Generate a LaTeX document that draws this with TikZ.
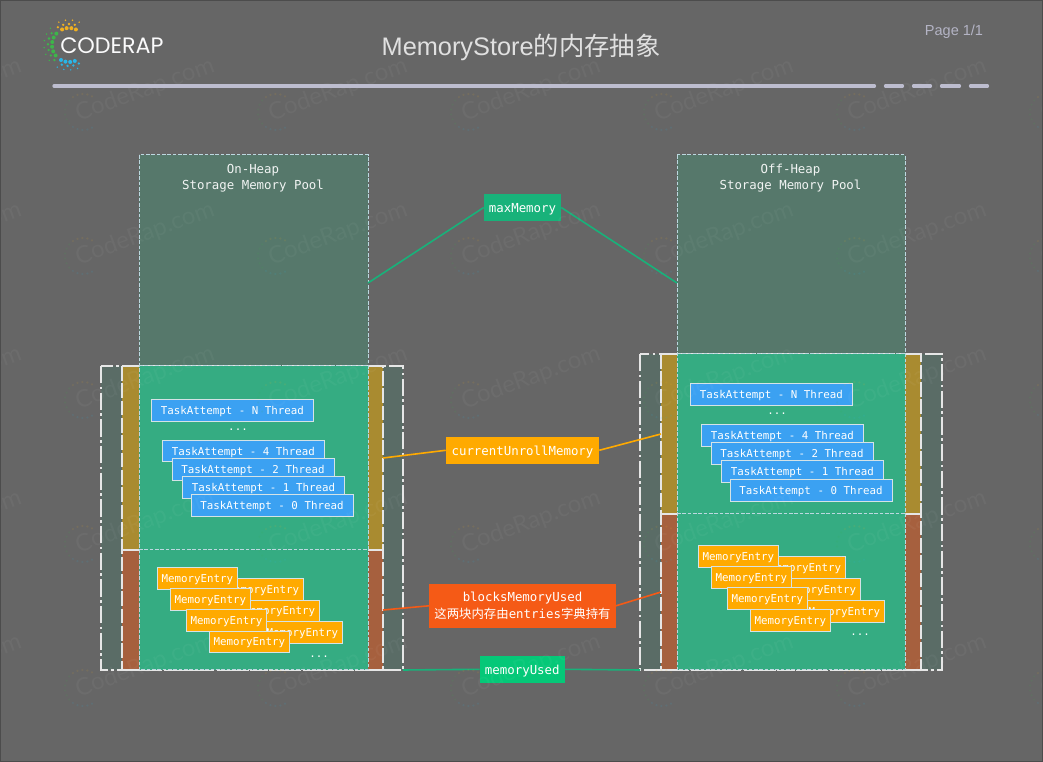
\documentclass[tikz,border=0pt]{standalone}
\usepackage{fontspec}
\setmainfont{Liberation Sans}
\setmonofont{DejaVu Sans Mono}
\newfontfamily\cjk{Noto Sans CJK SC}
\newfontfamily\logofont{Poppins}
\newfontfamily\markfont{Lato}
\definecolor{bgc}{HTML}{666666}
\definecolor{poolc}{HTML}{56786B}
\definecolor{usedc}{HTML}{35AC82}
\definecolor{goldc}{HTML}{A98B30}
\definecolor{brownc}{HTML}{A6603E}
\definecolor{sidec}{HTML}{5A6C66}
\definecolor{bluec}{HTML}{3BA1F2}
\definecolor{orangec}{HTML}{FFAA00}
\definecolor{redc}{HTML}{F55A16}
\definecolor{greenc}{HTML}{05C878}
\definecolor{maxc}{HTML}{18B27A}
\definecolor{rulec}{HTML}{BDBDCF}
\definecolor{edgec}{HTML}{D5E3E6}
\definecolor{pooldash}{HTML}{BCD8E0}
\definecolor{linec}{HTML}{E6E6E6}
\definecolor{logoy}{HTML}{F0B020}
\definecolor{logog}{HTML}{3DB54A}
\definecolor{logob}{HTML}{29B6E8}
\tikzset{
  x=0.75pt,y=-0.75pt,
  taskbox/.style={draw=edgec,line width=0.75pt,fill=bluec,text=white,inner sep=0pt,text depth=0pt,minimum width=121.5pt,minimum height=16.2pt,font=\ttfamily\fontsize{8.1}{10}\selectfont},
  entrybox/.style={draw=edgec,line width=0.75pt,fill=orangec,text=white,inner sep=0pt,text depth=0pt,minimum width=60pt,minimum height=16.2pt,font=\ttfamily\fontsize{8.1}{10}\selectfont},
  tag/.style={inner sep=0pt,text=white,font=\ttfamily\fontsize{9.3}{12.3}\selectfont},
  pooltext/.style={inner sep=0pt,text=white!92!poolc,align=center,font=\ttfamily\fontsize{9.3}{12}\selectfont},
  dotstext/.style={inner sep=0pt,text=white,font=\ttfamily\fontsize{8.1}{10}\selectfont},
  pooledge/.style={draw=pooldash,line width=0.75pt,dash pattern=on 2.7pt off 1.3pt},
  outeredge/.style={draw=linec,line width=1.4pt,dash pattern=on 13pt off 2.5pt on 2pt off 2.5pt},
  bandedge/.style={draw=linec,line width=1.4pt,dash pattern=on 11pt off 2pt},
  wire/.style={line width=1.2pt},
  headrule/.style={draw=rulec,line width=2.5pt,line cap=round},
  markdot/.style={opacity=0.1},
}
\begin{document}
\begin{tikzpicture}
\useasboundingbox (0,0) rectangle (1043,762);
\fill[bgc] (0,0) rectangle (1043,762);

% left column
\fill[poolc] (139,155) rectangle (368,366);
\fill[sidec] (101,366) rectangle (403,670);
\fill[goldc] (122,366) rectangle (139,550) (368,366) rectangle (383,550);
\fill[brownc] (122,550) rectangle (139,670) (368,550) rectangle (383,670);
\draw[bandedge] (122,366) rectangle (383,670);
\draw[linec,line width=1.4pt] (122,550) -- (139,550) (368,550) -- (383,550);
\draw[outeredge] (101,366) rectangle (403,670);
\fill[usedc] (139,366) rectangle (368,670);
\draw[pooledge] (139,155) rectangle (368,670);
\draw[pooledge] (139,366) -- (368,366);
\draw[pooledge] (139,550) -- (368,550);

% right column
\fill[poolc] (677,155) rectangle (905,354);
\fill[sidec] (640,354) rectangle (942,670);
\fill[goldc] (661,354) rectangle (677,514) (905,354) rectangle (921,514);
\fill[brownc] (661,514) rectangle (677,670) (905,514) rectangle (921,670);
\draw[bandedge] (661,354) rectangle (921,670);
\draw[linec,line width=1.4pt] (661,514) -- (677,514) (905,514) -- (921,514);
\draw[outeredge] (640,354) rectangle (942,670);
\fill[usedc] (677,354) rectangle (905,670);
\draw[pooledge] (677,155) rectangle (905,670);
\draw[pooledge] (677,354) -- (905,354);
\draw[pooledge] (677,514) -- (905,514);

\node[pooltext] (poolL) at (253,178) {On-Heap\\Storage Memory Pool};
\node[pooltext] (poolR) at (790.5,178) {Off-Heap\\Storage Memory Pool};

% anchors for connectors
\coordinate (maxL) at (368,283);
\coordinate (maxR) at (677,283);
\coordinate (unrollL) at (383,458);
\coordinate (unrollR) at (661,434);
\coordinate (blocksL) at (383,610);
\coordinate (blocksR) at (661,592);
\coordinate (usedL) at (403,670);
\coordinate (usedR) at (640,670);

% tags
\node[tag,text depth=0pt,fill=maxc,minimum width=57.75pt,minimum height=20.25pt] (maxTag) at (522.5,207.5) {maxMemory};
\node[tag,text depth=0pt,fill=orangec,minimum width=114.75pt,minimum height=20pt] (unrollTag) at (522.5,450.3) {currentUnrollMemory};
\node[tag,align=center,fill=redc,minimum width=139.8pt,minimum height=32.8pt] (blocksTag) at (522.5,605.8) {blocksMemoryUsed\\{\cjk 这两块内存由}entries{\cjk 字典持有}};
\node[tag,text depth=0pt,fill=greenc,minimum width=63.5pt,minimum height=20pt] (usedTag) at (522.3,669.3) {memoryUsed};

\draw[wire,maxc] (maxL) -- (maxTag.west);
\draw[wire,maxc] (maxTag.east) -- (maxR);
\draw[wire,orangec] (unrollL) -- (unrollTag.west);
\draw[wire,orangec] (unrollTag.east) -- (unrollR);
\draw[wire,redc] (blocksL) -- (blocksTag.west);
\draw[wire,redc] (blocksTag.east) -- (blocksR);
\draw[wire,maxc] (usedL) -- (usedTag.west);
\draw[wire,maxc] (usedTag.east) -- (usedR);

% left tasks
\node[taskbox] (ltN) at (232.3,410.5) {TaskAttempt - N Thread};
\node[dotstext] (ltDots) at (238,430) {...};
\node[taskbox] (lt4) at (243.3,451) {TaskAttempt - 4 Thread};
\node[taskbox] (lt2) at (253,469.3) {TaskAttempt - 2 Thread};
\node[taskbox] (lt1) at (263.5,487.3) {TaskAttempt - 1 Thread};
\node[taskbox] (lt0) at (272,505.8) {TaskAttempt - 0 Thread};

% left entries
\node[entrybox] (leE) at (263.3,589.7) {MemoryEntry};
\node[entrybox] (leF) at (279.3,611) {MemoryEntry};
\node[entrybox] (leG) at (302.3,632.5) {MemoryEntry};
\node[entrybox] (leA) at (197.3,578.3) {MemoryEntry};
\node[entrybox] (leB) at (210.3,599.5) {MemoryEntry};
\node[entrybox] (leC) at (226.5,620.3) {MemoryEntry};
\node[entrybox] (leD) at (249.3,642) {MemoryEntry};
\node[dotstext] (leDots) at (319,657) {...};

% right tasks
\node[taskbox] (rtN) at (771.3,394.5) {TaskAttempt - N Thread};
\node[dotstext] (rtDots) at (777,414) {...};
\node[taskbox] (rt4) at (782.3,435.3) {TaskAttempt - 4 Thread};
\node[taskbox] (rt2) at (792,453.3) {TaskAttempt - 2 Thread};
\node[taskbox] (rt1) at (802.3,471.8) {TaskAttempt - 1 Thread};
\node[taskbox] (rt0) at (811,490.3) {TaskAttempt - 0 Thread};

% right entries
\node[entrybox] (reE) at (805.3,567.8) {MemoryEntry};
\node[entrybox] (reF) at (820.3,589.3) {MemoryEntry};
\node[entrybox] (reG) at (844.3,611.3) {MemoryEntry};
\node[entrybox] (reA) at (738.3,556.8) {MemoryEntry};
\node[entrybox] (reB) at (751.3,577.3) {MemoryEntry};
\node[entrybox] (reC) at (767.3,598.3) {MemoryEntry};
\node[entrybox] (reD) at (790.3,620.3) {MemoryEntry};
\node[dotstext] (reDots) at (860,635) {...};

% watermark
\begin{scope}
\clip (0,0) rectangle (1043,762);
\foreach \cx in {-48,145,338,531,724,917,1110}
 \foreach \cy in {90,234,378,522,666} {
  \node[text=white,inner sep=0pt,rotate=20,font=\markfont\fontsize{18}{18}\selectfont,text opacity=0.04] at (\cx,\cy) {CodeRap.com};
  \foreach \a in {60,76,...,124} \fill[markdot,logoy] ({\cx-62+18*cos(\a)},{\cy+22-18*sin(\a)}) circle[radius=1.2];
  \foreach \a in {140,156,...,220} \fill[markdot,logog] ({\cx-62+18*cos(\a)},{\cy+22-18*sin(\a)}) circle[radius=1.2];
  \foreach \a in {236,252,...,300} \fill[markdot,logob] ({\cx-62+18*cos(\a)},{\cy+22-18*sin(\a)}) circle[radius=1.2];
 }
\end{scope}

% header
\node[inner sep=0pt,text=white!80!bgc,font=\fontsize{19}{22}\selectfont] (title) at (521,47) {MemoryStore{\cjk 的内存抽象}};
\node[inner sep=0pt,text=rulec!90!bgc,font=\fontsize{10.9}{13}\selectfont] (page) at (954,32) {Page 1/1};
\coordinate (r0) at (54,86); \coordinate (r1) at (874.5,86);
\draw[headrule] (r0) -- (r1);
\foreach \a/\b in {885.5/902.5,913.5/930.5,941.5/959.5,970.5/987.5} \draw[headrule] (\a,86) -- (\b,86);

% logo
\node[inner sep=0pt,anchor=west,text=white!92!rulec,font=\logofont\fontsize{16.7}{18}\selectfont] (logo) at (60,45.5) {CODERAP};
\foreach \r/\s/\o in {17/2.0/0,21/1.3/8,25/0.8/0} {
  \foreach \k in {0,1,2,3} \fill[logoy] ({69+\r*cos(66+16*\k+\o)},{45-\r*sin(66+16*\k+\o)}) circle[radius=\s];
  \foreach \k in {0,1,...,5} \fill[logog] ({69+\r*cos(138+16*\k+\o)},{45-\r*sin(138+16*\k+\o)}) circle[radius=\s];
  \foreach \k in {0,1,2,3} \fill[logob] ({69+\r*cos(242+16*\k+\o)},{45-\r*sin(242+16*\k+\o)}) circle[radius=\s];
}

% page edge
\draw[black!70,line width=1pt] (0,0) rectangle (1043,762);
\end{tikzpicture}
\end{document}
